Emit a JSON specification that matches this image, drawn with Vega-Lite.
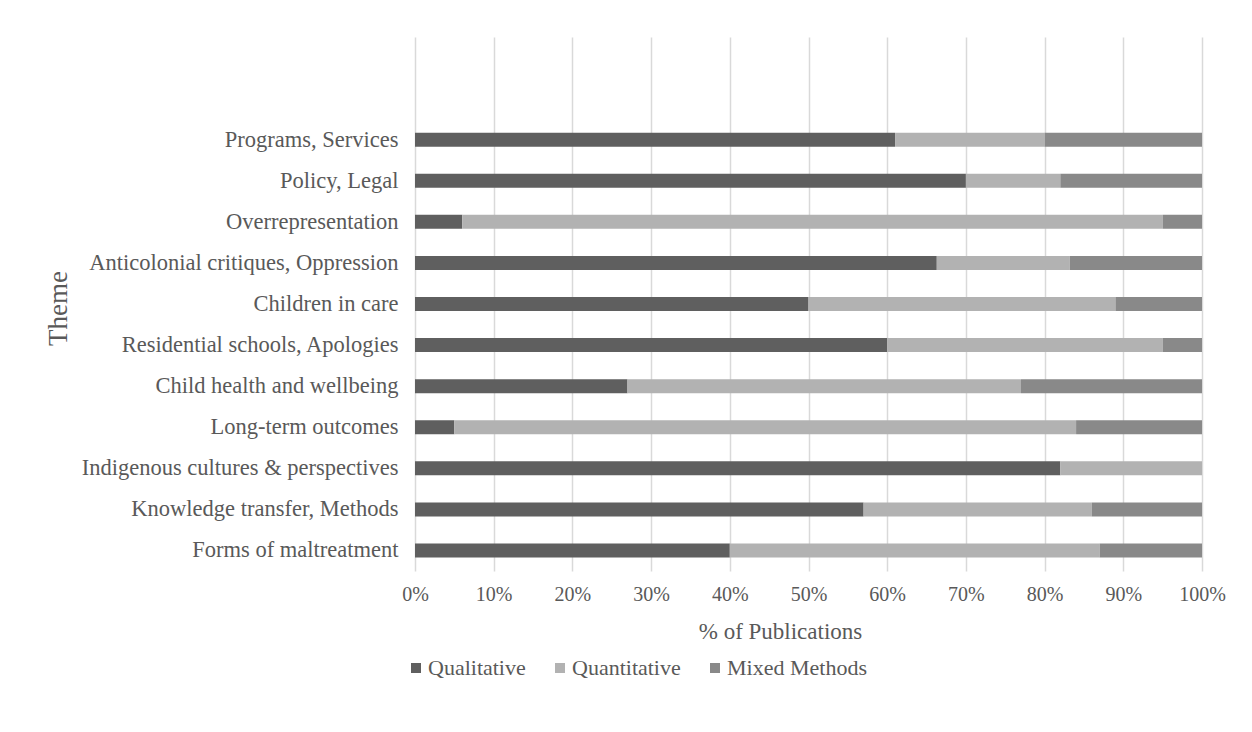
{
  "$schema": "https://vega.github.io/schema/vega-lite/v6.json",
  "autosize": "none",
  "width": 787,
  "height": 534,
  "padding": {"left": 415, "top": 37, "right": 50, "bottom": 161},
  "background": "white",
  "config": {
    "font": "Liberation Serif",
    "view": {"stroke": null},
    "axis": {"labelColor": "#595959", "titleColor": "#595959", "titleFontWeight": "normal"},
    "legend": {"labelColor": "#595959"}
  },
  "data": {
    "values": [
      {"theme": "Programs, Services", "method": "Qualitative", "pct": 61},
      {"theme": "Programs, Services", "method": "Quantitative", "pct": 19},
      {"theme": "Programs, Services", "method": "Mixed Methods", "pct": 20},
      {"theme": "Policy, Legal", "method": "Qualitative", "pct": 70},
      {"theme": "Policy, Legal", "method": "Quantitative", "pct": 12},
      {"theme": "Policy, Legal", "method": "Mixed Methods", "pct": 18},
      {"theme": "Overrepresentation", "method": "Qualitative", "pct": 6},
      {"theme": "Overrepresentation", "method": "Quantitative", "pct": 89},
      {"theme": "Overrepresentation", "method": "Mixed Methods", "pct": 5},
      {"theme": "Anticolonial critiques, Oppression", "method": "Qualitative", "pct": 66.3},
      {"theme": "Anticolonial critiques, Oppression", "method": "Quantitative", "pct": 16.9},
      {"theme": "Anticolonial critiques, Oppression", "method": "Mixed Methods", "pct": 16.8},
      {"theme": "Children in care", "method": "Qualitative", "pct": 50},
      {"theme": "Children in care", "method": "Quantitative", "pct": 39},
      {"theme": "Children in care", "method": "Mixed Methods", "pct": 11},
      {"theme": "Residential schools, Apologies", "method": "Qualitative", "pct": 60},
      {"theme": "Residential schools, Apologies", "method": "Quantitative", "pct": 35},
      {"theme": "Residential schools, Apologies", "method": "Mixed Methods", "pct": 5},
      {"theme": "Child health and wellbeing", "method": "Qualitative", "pct": 27},
      {"theme": "Child health and wellbeing", "method": "Quantitative", "pct": 50},
      {"theme": "Child health and wellbeing", "method": "Mixed Methods", "pct": 23},
      {"theme": "Long-term outcomes", "method": "Qualitative", "pct": 5},
      {"theme": "Long-term outcomes", "method": "Quantitative", "pct": 79},
      {"theme": "Long-term outcomes", "method": "Mixed Methods", "pct": 16},
      {"theme": "Indigenous cultures & perspectives", "method": "Qualitative", "pct": 82},
      {"theme": "Indigenous cultures & perspectives", "method": "Quantitative", "pct": 18},
      {"theme": "Indigenous cultures & perspectives", "method": "Mixed Methods", "pct": 0},
      {"theme": "Knowledge transfer, Methods", "method": "Qualitative", "pct": 57},
      {"theme": "Knowledge transfer, Methods", "method": "Quantitative", "pct": 29},
      {"theme": "Knowledge transfer, Methods", "method": "Mixed Methods", "pct": 14},
      {"theme": "Forms of maltreatment", "method": "Qualitative", "pct": 40},
      {"theme": "Forms of maltreatment", "method": "Quantitative", "pct": 47},
      {"theme": "Forms of maltreatment", "method": "Mixed Methods", "pct": 13}
    ]
  },
  "transform": [
    {"calculate": "indexof(['Qualitative', 'Quantitative', 'Mixed Methods'], datum.method)", "as": "stackOrder"}
  ],
  "mark": {"type": "bar", "size": 14},
  "encoding": {
    "y": {
      "field": "theme",
      "type": "nominal",
      "scale": {
        "domain": ["", " ", "Programs, Services", "Policy, Legal", "Overrepresentation", "Anticolonial critiques, Oppression", "Children in care", "Residential schools, Apologies", "Child health and wellbeing", "Long-term outcomes", "Indigenous cultures & perspectives", "Knowledge transfer, Methods", "Forms of maltreatment"],
        "paddingInner": 0, "paddingOuter": 0
      },
      "axis": {
        "title": "Theme",
        "titleFontSize": 27,
        "titleAngle": 270,
        "titleX": -357,
        "titleY": 271,
        "titleAlign": "center",
        "titleBaseline": "middle",
        "labelFontSize": 22.5,
        "labelLimit": 0,
        "labelPadding": 17,
        "ticks": false,
        "domain": false,
        "grid": false
      }
    },
    "x": {
      "field": "pct",
      "type": "quantitative",
      "stack": "normalize",
      "scale": {"domain": [0, 1], "nice": false},
      "axis": {
        "title": "% of Publications",
        "format": ".0%",
        "values": [0, 0.1, 0.2, 0.3, 0.4, 0.5, 0.6, 0.7, 0.8, 0.9, 1],
        "titleFontSize": 23,
        "titleX": 365,
        "titleY": 67,
        "titleBaseline": "alphabetic",
        "titleAlign": "center",
        "labelFontSize": 20,
        "labelFlush": false,
        "labelPadding": 13,
        "ticks": false,
        "domain": false,
        "grid": true,
        "gridColor": "#d9d9d9",
        "gridWidth": 1.5
      }
    },
    "order": {"field": "stackOrder", "type": "quantitative"},
    "color": {
      "field": "method",
      "type": "nominal",
      "scale": {"domain": ["Qualitative", "Quantitative", "Mixed Methods"], "range": ["#5f5f5f", "#b2b2b2", "#898989"]},
      "legend": {
        "title": null,
        "orient": "none",
        "direction": "horizontal",
        "legendX": -10,
        "legendY": 620,
        "symbolType": "square",
        "symbolSize": 100,
        "symbolStrokeWidth": 0,
        "labelFontSize": 22,
        "labelOffset": 1,
        "columnPadding": 23
      }
    }
  }
}
